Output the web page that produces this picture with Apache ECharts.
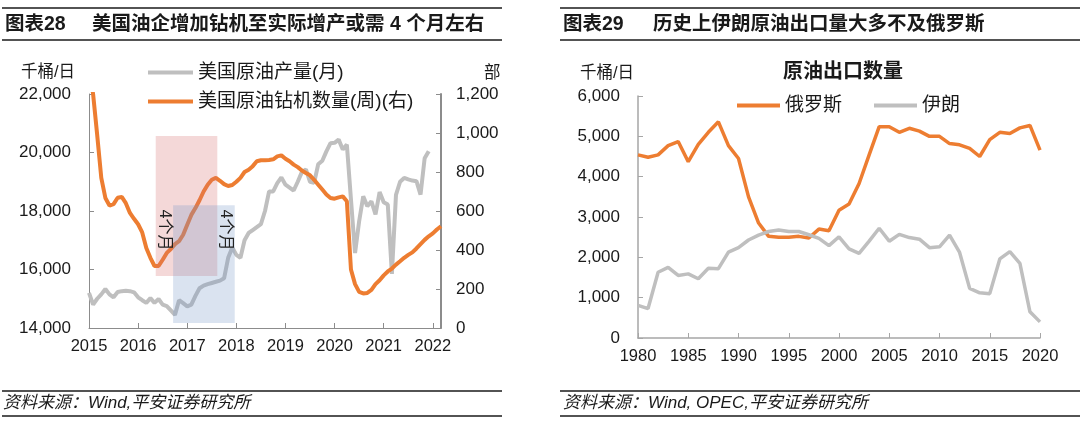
<!DOCTYPE html>
<html><head><meta charset="utf-8">
<script src="https://cdn.jsdelivr.net/npm/echarts@6/dist/echarts.min.js"></script>
<style>html,body{margin:0;padding:0;background:#fff}#c{width:1080px;height:425px}</style>
</head><body><div id="c"></div>
<script>
// ---------- Chart 28 data (monthly, 2015-01 .. ) ----------
const yearLabelsL = ['2015','2016','2017','2018','2019','2020','2021','2022'];
// 美国原油产量(月), 千桶/日, 2015-01 .. 2021-12
const usProduction = [
  15200,14800,15000,15150,15330,15150,15050,15230,15260,15270,15260,15220,
  15050,14950,14860,15020,14860,14990,14800,14750,14600,14450,14950,14850,
  14740,14800,15100,15360,15450,15500,15540,15580,15620,15700,16400,16750,
  16500,16400,17000,17250,17350,17450,17550,18000,18670,18670,18950,19150,
  18900,18800,18700,19000,19330,19420,19000,18960,19600,19720,20040,20320,
  20330,20440,20100,20270,18400,16560,17650,18500,18160,18330,17880,18650,
  18300,18220,15850,18550,19000,19130,19080,19040,19020,18560,19800,20040
];
// 美国原油钻机数量(周)(右), 部, sampled monthly 2015-01 .. 2022-03
const usRigs = [
  1330,1200,990,770,667,628,635,668,672,640,590,560,
  532,490,410,360,318,318,350,385,405,430,445,478,
  530,580,615,655,700,735,760,770,755,738,728,733,
  750,770,800,812,830,855,860,860,862,865,880,885,
  868,855,838,825,808,795,783,760,735,710,685,667,
  663,670,675,650,300,225,185,177,180,195,225,245,
  270,290,305,325,342,360,375,388,408,430,452,470,
  485,505,522
];
// ---------- Chart 29 data ----------
const years = [];
for (let y = 1980; y <= 2020; y++) years.push(String(y));
const russia = [4540,4480,4540,4770,4870,4370,4800,5100,5360,4770,4450,3500,2850,2520,2500,2500,2520,2480,2700,2660,
  3170,3320,3830,4540,5240,5240,5100,5200,5130,5000,5000,4820,4790,4700,4500,4920,5100,5070,5210,5270,4660];
const iran = [810,730,1630,1750,1550,1590,1470,1730,1720,2130,2240,2430,2550,2640,2680,2640,2640,2560,2470,2290,
  2510,2210,2100,2400,2720,2400,2570,2490,2450,2240,2260,2550,2120,1230,1120,1100,1960,2140,1850,650,400];

const FONT = '"Liberation Sans", "Noto Sans CJK SC", sans-serif';
const ORANGE = '#ED7D31', GRAY = '#BFBFBF', TXT = '#1a1a1a';
const fmt = v => Number(v).toLocaleString('en-US');

const chart = echarts.init(document.getElementById('c'), null, {renderer: 'canvas'});

function txt(text, x, y, size, opts) {
  opts = opts || {};
  return {type: 'text', x: x, y: y, silent: true, z: 100,
    style: {text: text, fill: opts.fill || TXT, align: opts.align || 'left', verticalAlign: 'middle',
      font: (opts.style || '') + ' ' + (opts.weight || 'normal') + ' ' + size + 'px ' + FONT}};
}
function rule(x1, x2, y) {
  return {type: 'line', silent: true, z: 100, shape: {x1: x1, y1: y, x2: x2, y2: y}, style: {stroke: '#1a1a1a', lineWidth: 1.5}};
}

const option = {
  animation: false,
  textStyle: {fontFamily: FONT},
  grid: [
    {left: 89, top: 94, width: 352, height: 234},
    {left: 638, top: 96, width: 402, height: 242}
  ],
  legend: [
    {data: ['美国原油产量(月)', '美国原油钻机数量(周)(右)'], orient: 'vertical', left: 143, top: 58,
     itemWidth: 45, itemHeight: 4, icon: 'rect', itemGap: 10, textStyle: {fontSize: 19, color: TXT}},
    {data: ['俄罗斯', '伊朗'], orient: 'horizontal', left: 732, top: 91,
     itemWidth: 43, itemHeight: 4, icon: 'rect', itemGap: 32, textStyle: {fontSize: 19, color: TXT}}
  ],
  xAxis: [
    {type: 'value', gridIndex: 0, min: 0, max: 86, interval: 12,
     axisLine: {show: true, lineStyle: {color: '#8c8c8c', width: 1}},
     axisTick: {show: true, inside: true, length: 5, lineStyle: {color: '#8c8c8c'}},
     splitLine: {show: false},
     axisLabel: {fontSize: 16.5, color: TXT, margin: 10, showMaxLabel: false,
       formatter: v => (v % 12 === 0 ? yearLabelsL[v / 12] : '')}},
    {type: 'category', gridIndex: 1, data: years, boundaryGap: false,
     axisLine: {show: true, lineStyle: {color: '#a6a6a6', width: 1.5}},
     axisTick: {show: true, inside: true, length: 5, interval: 4, lineStyle: {color: '#a6a6a6'}},
     axisLabel: {fontSize: 16.5, color: TXT, margin: 10, interval: 4}}
  ],
  yAxis: [
    {type: 'value', gridIndex: 0, min: 14000, max: 22000, interval: 2000,
     axisLine: {show: true, lineStyle: {color: '#8c8c8c', width: 1}},
     axisTick: {show: true, inside: true, length: 5, lineStyle: {color: '#8c8c8c'}},
     splitLine: {show: false},
     axisLabel: {fontSize: 17, color: TXT, margin: 18, formatter: fmt}},
    {type: 'value', gridIndex: 0, position: 'right', min: 0, max: 1200, interval: 200,
     axisLine: {show: true, lineStyle: {color: '#8c8c8c', width: 2}},
     axisTick: {show: true, inside: true, length: 5, lineStyle: {color: '#8c8c8c'}},
     splitLine: {show: false},
     axisLabel: {fontSize: 17, color: TXT, margin: 15, formatter: fmt}},
    {type: 'value', gridIndex: 1, min: 0, max: 6000, interval: 1000,
     axisLine: {show: true, lineStyle: {color: '#a6a6a6', width: 1.5}},
     axisTick: {show: true, inside: true, length: 5, lineStyle: {color: '#a6a6a6'}},
     splitLine: {show: false},
     axisLabel: {fontSize: 17, color: TXT, margin: 18, formatter: fmt}}
  ],
  series: [
    {name: '美国原油产量(月)', type: 'line', xAxisIndex: 0, yAxisIndex: 0, symbol: 'none',
     lineStyle: {width: 4, color: GRAY}, itemStyle: {color: GRAY},
     data: usProduction.map((v, i) => [i, v]),
     markArea: {z: 5, silent: true, data: [
       [{xAxis: 16.3, yAxis: 20560, itemStyle: {color: 'rgba(214,110,110,0.27)'}}, {xAxis: 31.35, yAxis: 15780}],
       [{xAxis: 20.55, yAxis: 18200, itemStyle: {color: 'rgba(120,150,200,0.27)'}}, {xAxis: 35.6, yAxis: 14170}]
     ]},
     markPoint: {z: 6, silent: true, symbol: 'rect', symbolSize: 1, itemStyle: {color: 'rgba(0,0,0,0)'},
       label: {show: true, formatter: '4个月', rotate: -90, fontSize: 16, color: '#222', position: 'inside'},
       data: [{coord: [18.45, 17350]}, {coord: [33.4, 17350]}]}
    },
    {name: '美国原油钻机数量(周)(右)', type: 'line', xAxisIndex: 0, yAxisIndex: 1, symbol: 'none',
     lineStyle: {width: 4, color: ORANGE}, itemStyle: {color: ORANGE},
     data: usRigs.map((v, i) => [i, v])},
    {name: '俄罗斯', type: 'line', xAxisIndex: 1, yAxisIndex: 2, symbol: 'none',
     lineStyle: {width: 3.5, color: ORANGE}, itemStyle: {color: ORANGE}, data: russia},
    {name: '伊朗', type: 'line', xAxisIndex: 1, yAxisIndex: 2, symbol: 'none',
     lineStyle: {width: 3.5, color: GRAY}, itemStyle: {color: GRAY}, data: iran}
  ],
  graphic: [
    rule(2, 502, 8), rule(2, 502, 40), rule(2, 502, 391), rule(2, 502, 416),
    rule(560, 1080, 8), rule(560, 1080, 40), rule(560, 1080, 391), rule(560, 1080, 416),
    txt('图表28', 5, 25, 19.5, {weight: 'bold'}),
    txt('美国油企增加钻机至实际增产或需 4 个月左右', 92, 25, 19.5, {weight: 'bold'}),
    txt('图表29', 563, 25, 19.5, {weight: 'bold'}),
    txt('历史上伊朗原油出口量大多不及俄罗斯', 653, 25, 19.5, {weight: 'bold'}),
    txt('资料来源：Wind,平安证券研究所', 3, 403, 17, {style: 'italic'}),
    txt('资料来源：Wind, OPEC,平安证券研究所', 563, 403, 17, {style: 'italic'}),
    txt('千桶/日', 21, 72, 16.5),
    txt('部', 484, 73, 16.5),
    txt('千桶/日', 580, 73, 16.5),
    txt('原油出口数量', 843, 72, 20, {weight: 'bold', align: 'center'})
  ]
};
chart.setOption(option);
</script></body></html>
